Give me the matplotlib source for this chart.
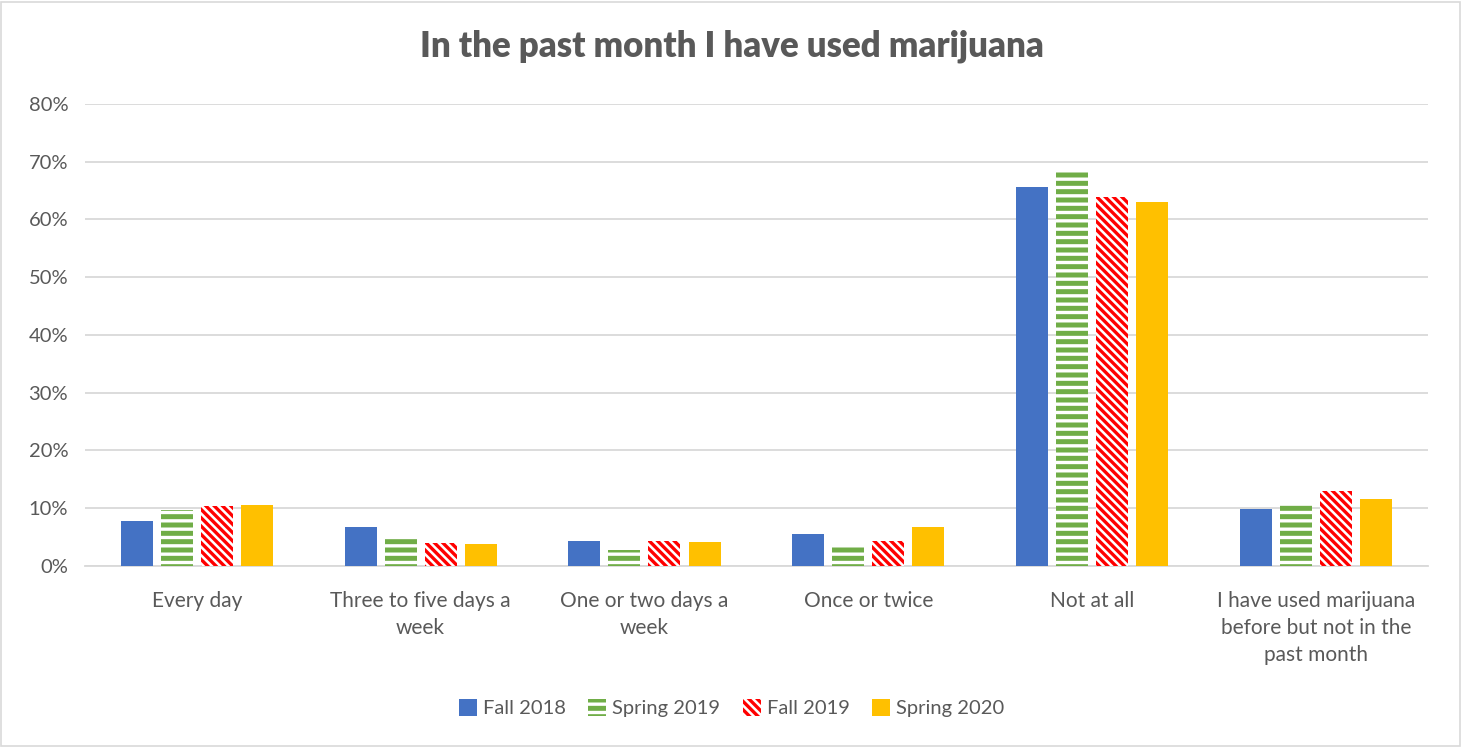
import matplotlib
matplotlib.use("Agg")
import matplotlib.pyplot as plt
import numpy as np
from matplotlib.patches import Rectangle
from matplotlib.ticker import PercentFormatter

categories = ["Every day", "Three to five days a\nweek", "One or two days a\nweek",
              "Once or twice", "Not at all",
              "I have used marijuana\nbefore but not in the\npast month"]
series = ["Fall 2018", "Spring 2019", "Fall 2019", "Spring 2020"]
fall_2018 = [0.078, 0.067, 0.043, 0.055, 0.656, 0.098]
spring_2019 = [0.097, 0.048, 0.028, 0.036, 0.683, 0.105]
fall_2019 = [0.104, 0.040, 0.043, 0.043, 0.639, 0.130]
spring_2020 = [0.105, 0.038, 0.041, 0.068, 0.631, 0.116]

text_color = "#595959"
grid_color = "#d9d9d9"

plt.rcParams['font.family'] = ['Lato', 'DejaVu Sans']
plt.rcParams['hatch.linewidth'] = 2.4

fig = plt.figure(figsize=(14.63, 7.47), dpi=100)
ax = fig.add_axes([0.058, 0.2423, 0.918, 0.6185])

x = np.arange(len(categories))
step = 0.179
width = 0.143

# (values, face, hatch colour, hatch)
styles = [
    (fall_2018, "#4472c4", "#4472c4", None),
    (spring_2019, "#70ad47", "white", "--"),
    (fall_2019, "white", "#ff0000", "\\\\\\\\"),
    (spring_2020, "#ffc000", "#ffc000", None),
]
for i, (vals, face, hcol, hatch) in enumerate(styles):
    ax.bar(x + (i - 1.5) * step, vals, width, color=face, edgecolor=hcol,
           hatch=hatch, linewidth=0, label=series[i], zorder=3)

ax.set_xlim(-0.5, 5.5)
ax.set_ylim(0, 0.8)
ax.set_yticks(np.arange(0, 0.81, 0.1))
ax.yaxis.set_major_formatter(PercentFormatter(1.0, decimals=0))
ax.set_xticks(x)
ax.set_xticklabels(categories, linespacing=1.45)
ax.tick_params(axis='both', length=0, labelsize=14.5, labelcolor=text_color)
ax.tick_params(axis='x', labelsize=15, pad=18)
ax.tick_params(axis='y', pad=12)
ax.grid(axis='y', color=grid_color, linewidth=1.3, zorder=0)
for side in ["top", "right", "left"]:
    ax.spines[side].set_visible(False)
ax.spines["bottom"].set_color(grid_color)
ax.spines["bottom"].set_linewidth(1.3)

fig.suptitle("In the past month I have used marijuana", y=0.96, fontsize=25,
             fontweight='heavy', color=text_color)

leg = fig.legend(loc='center', bbox_to_anchor=(0.5, 0.052), ncol=4, frameon=False,
                 fontsize=14.5, handlelength=0.9, handleheight=0.9, handletextpad=0.3,
                 columnspacing=1.1)
for t in leg.get_texts():
    t.set_color(text_color)

fig.patches.append(Rectangle((0.001, 0.002), 0.997, 0.995, transform=fig.transFigure,
                             fill=False, edgecolor=grid_color, linewidth=1.2))

fig.savefig("out.png", dpi=100)
